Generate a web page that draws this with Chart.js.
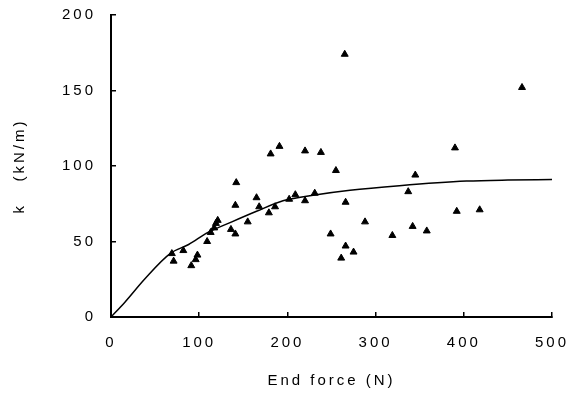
<!DOCTYPE html>
<html>
  <head>
    <meta charset="UTF-8" />
    <script src="https://cdn.jsdelivr.net/npm/chart.js"></script>
    <style>
      html, body { margin: 0; padding: 0; background: #fff; }
      #wrap { width: 575px; height: 405px; }
    </style>
  </head>
  <body>
    <div id="wrap"><canvas id="kChart"></canvas></div>
    <script>
      // measured points (end force N, stiffness kN/m)
      const forceN = [69, 71, 82, 91, 96, 98, 109, 113, 117, 119, 121, 136, 141, 141, 142, 155, 165, 168, 179, 181, 186, 191, 202, 209, 220, 220, 231, 238, 249, 255, 261, 265, 266, 266, 275, 288, 319, 337, 342, 345, 358, 390, 392, 418, 466];
      const stiffness = [42, 37, 44, 34, 38, 41, 50, 56, 59, 62, 64, 58, 55, 74, 89, 63, 79, 73, 69, 108, 73, 113, 78, 81, 110, 77, 82, 109, 55, 97, 39, 174, 76, 47, 43, 63, 54, 83, 60, 94, 57, 112, 70, 71, 152];

      // fitted curve
      const fitX = [0, 16, 38, 67, 88, 110, 137, 165, 195, 233, 271, 327, 403, 450, 500];
      const fitY = [0, 10, 25, 42, 48, 56, 63, 70, 77, 81, 84, 87, 90, 90.7, 91];

      const xTicks = [0, 100, 200, 300, 400, 500];
      const yTicks = [0, 50, 100, 150, 200];

      const font = { family: "'Liberation Sans', Arial, sans-serif", size: 15 };

      // spaced-out lettering like the original figure
      const spacing = {
        id: "spacing",
        beforeLayout(chart) { chart.ctx.letterSpacing = "3px"; },
        beforeDraw(chart) { chart.ctx.letterSpacing = "3px"; },
      };

      new Chart(document.getElementById("kChart"), {
        type: "scatter",
        data: {
          datasets: [
            {
              data: forceN.map((x, i) => ({ x: x, y: stiffness[i] })),
              pointStyle: "triangle",
              pointRadius: 4,
              backgroundColor: "#000",
              borderColor: "#000",
              borderWidth: 1,
            },
            {
              data: fitX.map((x, i) => ({ x: x, y: fitY[i] })),
              showLine: true,
              pointRadius: 0,
              borderColor: "#000",
              borderWidth: 1.5,
              cubicInterpolationMode: "monotone",
            },
          ],
        },
        options: {
          responsive: true,
          maintainAspectRatio: false,
          animation: false,
          layout: { padding: { top: 15, right: 23, left: 0, bottom: 0 } },
          plugins: { legend: { display: false }, tooltip: { enabled: false } },
          scales: {
            x: {
              type: "linear",
              min: 0,
              max: 500,
              afterBuildTicks: (s) => { s.ticks = xTicks.map((v) => ({ value: v })); },
              afterFit: (s) => { s.height = 88; s.paddingLeft = 0; s.paddingRight = 0; },
              grid: { drawOnChartArea: false, tickLength: -5, color: "#000", lineWidth: 1.5 },
              border: { color: "#000", width: 2 },
              ticks: { color: "#000", font: font, padding: 22, maxRotation: 0 },
              title: { display: true, text: "End force (N)", color: "#000", font: font, padding: { top: 0, bottom: 15 } },
            },
            y: {
              min: 0,
              max: 200,
              afterBuildTicks: (s) => { s.ticks = yTicks.map((v) => ({ value: v })); },
              afterFit: (s) => { s.width = 111; s.paddingTop = 0; s.paddingBottom = 0; },
              grid: { drawOnChartArea: false, tickLength: -5, color: "#000", lineWidth: 1.5 },
              border: { color: "#000", width: 2 },
              ticks: { color: "#000", font: font, padding: 20 },
              title: { display: true, text: "k   (kN/m)", color: "#000", font: font, padding: { top: 11, bottom: 0 } },
            },
          },
        },
        plugins: [spacing],
      });
    </script>
  </body>
</html>
